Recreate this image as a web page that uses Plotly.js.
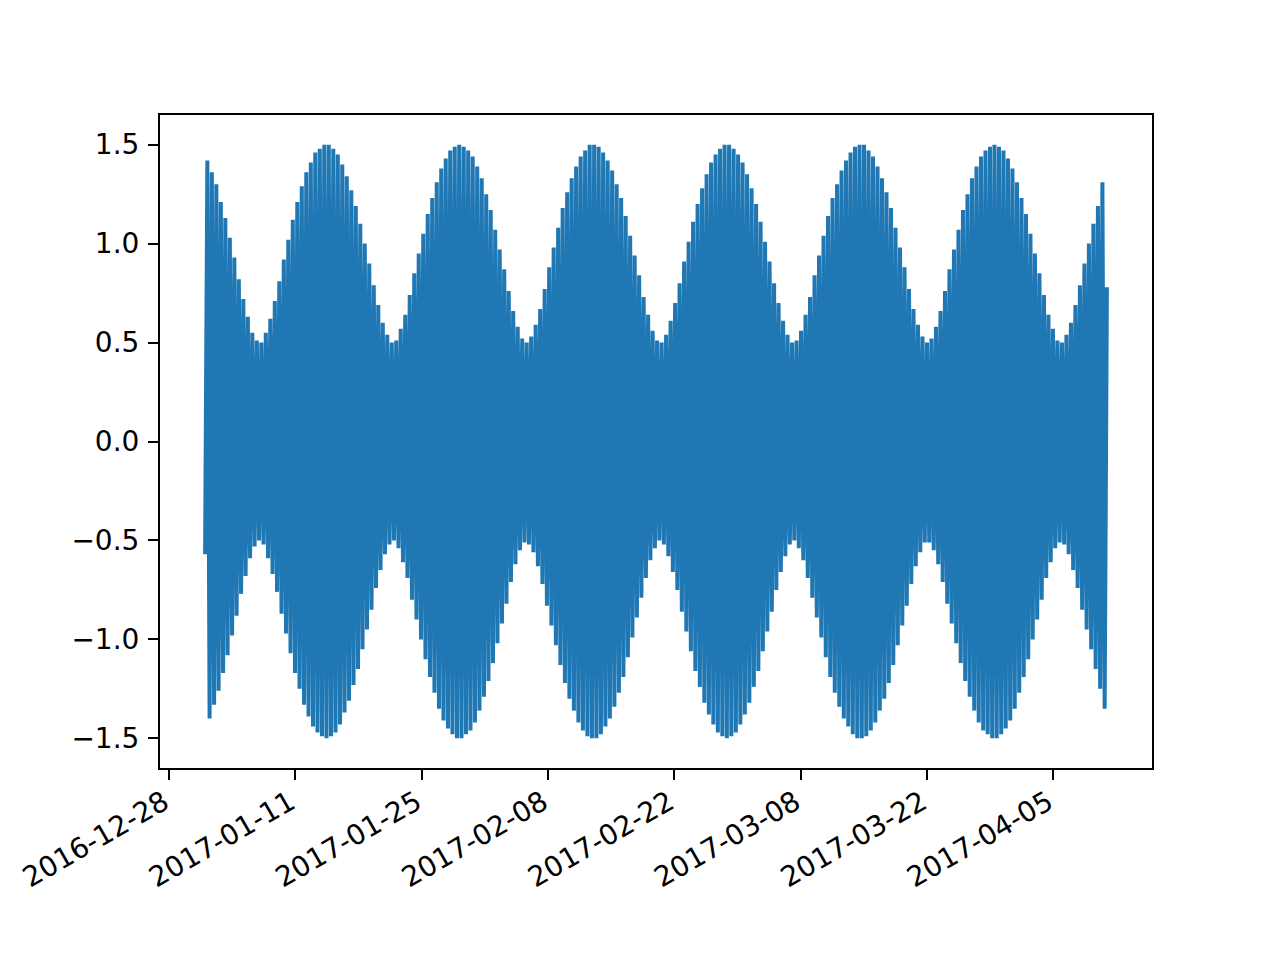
<!DOCTYPE html>
<html>
<head>
<meta charset="utf-8">
<script src="https://cdn.plot.ly/plotly-3.0.1.min.js"></script>
<style>
  html, body { margin: 0; padding: 0; background: #ffffff; }
  #chart { width: 1280px; height: 960px; }
</style>
</head>
<body>
<div id="chart"></div>
<script>
// ---- Data ----
// Series spans 2017-01-01 00:00 to 2017-04-10 23:00 (hourly-like signal, 2399 h).
const seriesStart = '2017-01-01T00:00:00Z';
const seriesSpanHours = 2399;

// First and last samples of the line
const startValue = -0.57;
const endValue = 0.78;

// Successive peak heights (upper edge of the band), about every half day
const peakValues = [
  1.42,1.36,1.30,1.21,1.13,1.03,0.93,0.82,0.72,0.63,0.55,0.51,0.50,0.55,0.62,0.71,0.81,0.92,1.02,1.12,
  1.21,1.29,1.36,1.41,1.46,1.48,1.50,1.50,1.48,1.45,1.40,1.34,1.27,1.19,1.10,1.00,0.90,0.79,0.69,0.60,
  0.54,0.50,0.51,0.57,0.64,0.74,0.85,0.95,1.05,1.15,1.23,1.31,1.38,1.43,1.47,1.49,1.50,1.49,1.47,1.44,
  1.39,1.33,1.25,1.17,1.07,0.97,0.87,0.76,0.66,0.58,0.52,0.50,0.53,0.59,0.67,0.77,0.88,0.98,1.08,1.18,
  1.26,1.33,1.39,1.44,1.47,1.50,1.50,1.49,1.46,1.42,1.37,1.30,1.23,1.14,1.04,0.94,0.84,0.73,0.64,0.56,
  0.51,0.50,0.54,0.61,0.70,0.80,0.91,1.01,1.11,1.20,1.28,1.35,1.41,1.45,1.48,1.50,1.50,1.48,1.45,1.41,
  1.35,1.28,1.20,1.11,1.01,0.91,0.80,0.70,0.61,0.54,0.50,0.51,0.56,0.64,0.73,0.84,0.94,1.04,1.14,1.23,
  1.30,1.37,1.42,1.46,1.49,1.50,1.50,1.47,1.44,1.39,1.33,1.26,1.18,1.08,0.98,0.88,0.77,0.67,0.59,0.53,
  0.50,0.52,0.58,0.66,0.76,0.87,0.97,1.07,1.17,1.25,1.33,1.39,1.44,1.47,1.49,1.50,1.49,1.47,1.43,1.38,
  1.31,1.23,1.15,1.05,0.95,0.85,0.74,0.64,0.57,0.51,0.50,0.54,0.60,0.69,0.79,0.90,1.00,1.10,1.19,1.31
];

// Successive trough depths (lower edge of the band), between the peaks
const troughValues = [
  -1.40,-1.33,-1.26,-1.17,-1.08,-0.98,-0.88,-0.77,-0.68,-0.59,-0.53,-0.50,-0.52,-0.59,-0.67,-0.76,-0.87,-0.97,-1.07,-1.17,
  -1.25,-1.33,-1.39,-1.44,-1.47,-1.49,-1.50,-1.49,-1.47,-1.43,-1.37,-1.31,-1.23,-1.15,-1.05,-0.95,-0.85,-0.74,-0.65,-0.57,
  -0.52,-0.50,-0.54,-0.61,-0.69,-0.80,-0.90,-1.00,-1.10,-1.19,-1.27,-1.35,-1.41,-1.45,-1.48,-1.50,-1.50,-1.48,-1.46,-1.42,
  -1.36,-1.29,-1.21,-1.12,-1.02,-0.92,-0.82,-0.71,-0.62,-0.55,-0.51,-0.52,-0.56,-0.63,-0.72,-0.83,-0.93,-1.03,-1.13,-1.22,
  -1.30,-1.36,-1.42,-1.46,-1.49,-1.50,-1.50,-1.48,-1.44,-1.40,-1.34,-1.27,-1.19,-1.09,-0.99,-0.89,-0.79,-0.69,-0.60,-0.54,
  -0.50,-0.52,-0.58,-0.66,-0.75,-0.86,-0.96,-1.06,-1.16,-1.24,-1.32,-1.38,-1.43,-1.47,-1.49,-1.50,-1.49,-1.47,-1.43,-1.38,
  -1.32,-1.24,-1.16,-1.06,-0.96,-0.86,-0.75,-0.66,-0.58,-0.52,-0.50,-0.54,-0.60,-0.69,-0.79,-0.89,-0.99,-1.09,-1.19,-1.27,
  -1.34,-1.40,-1.44,-1.48,-1.50,-1.50,-1.49,-1.46,-1.42,-1.36,-1.30,-1.22,-1.13,-1.03,-0.93,-0.83,-0.72,-0.63,-0.56,-0.51,
  -0.51,-0.55,-0.62,-0.71,-0.82,-0.92,-1.02,-1.12,-1.21,-1.29,-1.36,-1.42,-1.46,-1.48,-1.50,-1.50,-1.48,-1.45,-1.41,-1.35,
  -1.27,-1.19,-1.10,-1.00,-0.90,-0.80,-0.69,-0.61,-0.54,-0.51,-0.52,-0.57,-0.65,-0.74,-0.85,-0.95,-1.05,-1.15,-1.25,-1.35
];

// Axis tick positions / labels
const xTickDates = ['2016-12-28','2017-01-11','2017-01-25','2017-02-08','2017-02-22','2017-03-08','2017-03-22','2017-04-05'];
const xRange = ['2016-12-27 00:03', '2017-04-15 22:57'];
const yTickValues = [-1.5, -1.0, -0.5, 0.0, 0.5, 1.0, 1.5];
const yTickLabels = ['\u22121.5', '\u22121.0', '\u22120.5', '0.0', '0.5', '1.0', '1.5'];
const yRange = [-1.65, 1.65];

// ---- Build the line: start, then peak/trough alternating, then end ----
const yVals = [startValue];
for (let k = 0; k < peakValues.length; k++) {
  yVals.push(peakValues[k]);
  yVals.push(troughValues[k]);
}
yVals.push(endValue);

const t0 = Date.parse(seriesStart);
const stepMs = seriesSpanHours * 3600 * 1000 / (yVals.length - 1);
const xVals = yVals.map((_, i) => {
  const d = new Date(t0 + i * stepMs);
  return d.toISOString().replace('T', ' ').replace('Z', '');
});

const trace = {
  x: xVals,
  y: yVals,
  type: 'scatter',
  mode: 'lines',
  line: { color: '#1f77b4', width: 4, simplify: false },
  hoverinfo: 'skip'
};

const tickFont = { family: 'DejaVu Sans, sans-serif', size: 28, color: '#000000' };

const layout = {
  width: 1280,
  height: 960,
  paper_bgcolor: '#ffffff',
  plot_bgcolor: '#ffffff',
  showlegend: false,
  margin: { l: 160, r: 128, t: 115, b: 192, pad: 0 },
  xaxis: {
    type: 'date',
    range: xRange,
    tickmode: 'array',
    tickvals: xTickDates,
    ticktext: xTickDates,
    tickangle: -30,
    tickfont: tickFont,
    ticks: 'outside',
    ticklen: 10,
    tickwidth: 2,
    tickcolor: '#000000',
    ticklabelshift: -5,
    ticklabelstandoff: -5,
    showgrid: false,
    zeroline: false,
    showline: true,
    mirror: true,
    linecolor: '#000000',
    linewidth: 2
  },
  yaxis: {
    range: yRange,
    tickmode: 'array',
    tickvals: yTickValues,
    ticktext: yTickLabels,
    tickfont: tickFont,
    ticks: 'outside',
    ticklen: 10,
    tickwidth: 2,
    tickcolor: '#000000',
    ticklabelstandoff: 3,
    showgrid: false,
    zeroline: false,
    showline: true,
    mirror: true,
    linecolor: '#000000',
    linewidth: 2
  }
};

Plotly.newPlot('chart', [trace], layout, { staticPlot: true, displayModeBar: false });
</script>
</body>
</html>
